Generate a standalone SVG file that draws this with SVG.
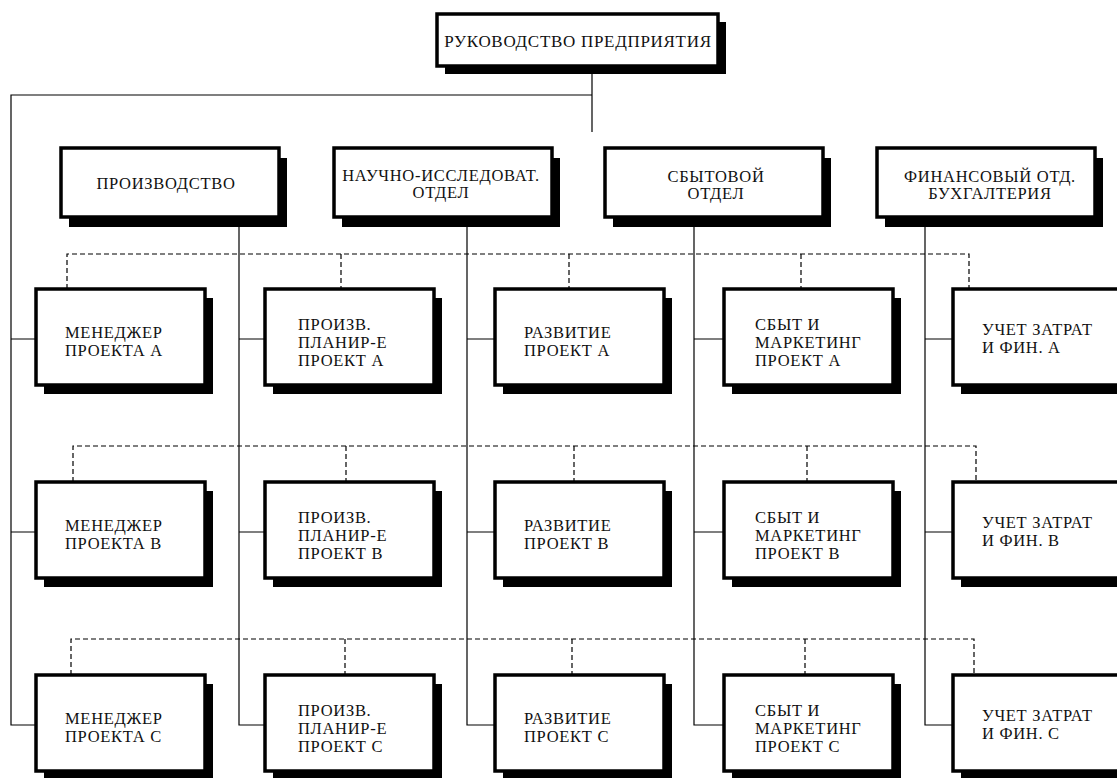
<svg xmlns="http://www.w3.org/2000/svg" width="1117" height="778" viewBox="0 0 1117 778">
<style>
.bg{fill:#ffffff}
.box{fill:#ffffff;stroke:#000000;stroke-width:3.5}
.sh{fill:#000000}
.t{font-family:"Liberation Serif","Times New Roman",serif;font-size:16.5px;letter-spacing:0.7px;fill:#111111}
.c{text-anchor:middle}
.ln{fill:none;stroke:#000000;stroke-width:1.2}
.dl{fill:none;stroke:#000000;stroke-width:1.2;stroke-dasharray:5 3}
</style>
<rect class="bg" x="0" y="0" width="1117" height="778"/>
<g id="connectors">
  <path class="ln" d="M592 66 V132 M592 95 H11 V725 H36"/>
  <path class="ln" d="M239 217 V725 H265 M467 217 V725 H495 M694 217 V725 H724 M925 217 V725 H953"/>
  <path class="ln" d="M11 339 H36 M239 339 H265 M467 339 H495 M694 339 H724 M925 339 H953"/>
  <path class="ln" d="M11 532 H36 M239 532 H265 M467 532 H495 M694 532 H724 M925 532 H953"/>
  <path class="dl" d="M67 289 V254 H969 V289 M341 254 V289 M569 254 V289 M801 254 V289"/>
  <path class="dl" d="M73 482 V446 H976 V482 M346 446 V482 M574 446 V482 M807 446 V482"/>
  <path class="dl" d="M71 675 V639 H974 V675 M345 639 V675 M572 639 V675 M805 639 V675"/>
</g>
<g id="n-top"><rect class="sh" x="445" y="22" width="281" height="52"/><rect class="box" x="437" y="14" width="281" height="52"/><text class="t c" x="578" y="47" style="font-size:17px">РУКОВОДСТВО ПРЕДПРИЯТИЯ</text></g>
<g id="n-prod"><rect class="sh" x="69" y="158" width="218" height="69"/><rect class="box" x="61" y="148" width="218" height="69"/><text class="t c" x="166" y="189">ПРОИЗВОДСТВО</text></g>
<g id="n-nio"><rect class="sh" x="342" y="158" width="218" height="69"/><rect class="box" x="334" y="148" width="218" height="69"/><text class="t c" x="441" y="181">НАУЧНО-ИССЛЕДОВАТ.</text><text class="t c" x="441" y="198">ОТДЕЛ</text></g>
<g id="n-sbyt"><rect class="sh" x="613" y="158" width="218" height="69"/><rect class="box" x="605" y="148" width="218" height="69"/><text class="t c" x="716" y="182">СБЫТОВОЙ</text><text class="t c" x="716" y="199">ОТДЕЛ</text></g>
<g id="n-fin"><rect class="sh" x="885" y="158" width="218" height="69"/><rect class="box" x="877" y="148" width="218" height="69"/><text class="t c" x="990" y="182">ФИНАНСОВЫЙ ОТД.</text><text class="t c" x="990" y="199">БУХГАЛТЕРИЯ</text></g>

<g id="n-a1"><rect class="sh" x="44" y="298" width="169" height="96"/><rect class="box" x="36" y="289" width="169" height="96"/><text class="t" x="65" y="338">МЕНЕДЖЕР</text><text class="t" x="65" y="356">ПРОЕКТА А</text></g>
<g id="n-a2"><rect class="sh" x="273" y="298" width="169" height="96"/><rect class="box" x="265" y="289" width="169" height="96"/><text class="t" x="298" y="330">ПРОИЗВ.</text><text class="t" x="298" y="348">ПЛАНИР-Е</text><text class="t" x="298" y="366">ПРОЕКТ А</text></g>
<g id="n-a3"><rect class="sh" x="503" y="298" width="169" height="96"/><rect class="box" x="495" y="289" width="169" height="96"/><text class="t" x="524" y="338">РАЗВИТИЕ</text><text class="t" x="524" y="356">ПРОЕКТ А</text></g>
<g id="n-a4"><rect class="sh" x="732" y="298" width="169" height="96"/><rect class="box" x="724" y="289" width="169" height="96"/><text class="t" x="755" y="330">СБЫТ И</text><text class="t" x="755" y="348">МАРКЕТИНГ</text><text class="t" x="755" y="366">ПРОЕКТ А</text></g>
<g id="n-a5"><rect class="sh" x="961" y="298" width="169" height="96"/><rect class="box" x="953" y="289" width="169" height="96"/><text class="t" x="982" y="335">УЧЕТ ЗАТРАТ</text><text class="t" x="982" y="353">И ФИН. А</text></g>

<g id="n-b1"><rect class="sh" x="44" y="491" width="169" height="96"/><rect class="box" x="36" y="482" width="169" height="96"/><text class="t" x="65" y="531">МЕНЕДЖЕР</text><text class="t" x="65" y="549">ПРОЕКТА В</text></g>
<g id="n-b2"><rect class="sh" x="273" y="491" width="169" height="96"/><rect class="box" x="265" y="482" width="169" height="96"/><text class="t" x="298" y="523">ПРОИЗВ.</text><text class="t" x="298" y="541">ПЛАНИР-Е</text><text class="t" x="298" y="559">ПРОЕКТ В</text></g>
<g id="n-b3"><rect class="sh" x="503" y="491" width="169" height="96"/><rect class="box" x="495" y="482" width="169" height="96"/><text class="t" x="524" y="531">РАЗВИТИЕ</text><text class="t" x="524" y="549">ПРОЕКТ В</text></g>
<g id="n-b4"><rect class="sh" x="732" y="491" width="169" height="96"/><rect class="box" x="724" y="482" width="169" height="96"/><text class="t" x="755" y="523">СБЫТ И</text><text class="t" x="755" y="541">МАРКЕТИНГ</text><text class="t" x="755" y="559">ПРОЕКТ В</text></g>
<g id="n-b5"><rect class="sh" x="961" y="491" width="169" height="96"/><rect class="box" x="953" y="482" width="169" height="96"/><text class="t" x="982" y="528">УЧЕТ ЗАТРАТ</text><text class="t" x="982" y="546">И ФИН. В</text></g>

<g id="n-c1"><rect class="sh" x="44" y="684" width="169" height="96"/><rect class="box" x="36" y="675" width="169" height="96"/><text class="t" x="65" y="724">МЕНЕДЖЕР</text><text class="t" x="65" y="742">ПРОЕКТА С</text></g>
<g id="n-c2"><rect class="sh" x="273" y="684" width="169" height="96"/><rect class="box" x="265" y="675" width="169" height="96"/><text class="t" x="298" y="716">ПРОИЗВ.</text><text class="t" x="298" y="734">ПЛАНИР-Е</text><text class="t" x="298" y="752">ПРОЕКТ С</text></g>
<g id="n-c3"><rect class="sh" x="503" y="684" width="169" height="96"/><rect class="box" x="495" y="675" width="169" height="96"/><text class="t" x="524" y="724">РАЗВИТИЕ</text><text class="t" x="524" y="742">ПРОЕКТ С</text></g>
<g id="n-c4"><rect class="sh" x="732" y="684" width="169" height="96"/><rect class="box" x="724" y="675" width="169" height="96"/><text class="t" x="755" y="716">СБЫТ И</text><text class="t" x="755" y="734">МАРКЕТИНГ</text><text class="t" x="755" y="752">ПРОЕКТ С</text></g>
<g id="n-c5"><rect class="sh" x="961" y="684" width="169" height="96"/><rect class="box" x="953" y="675" width="169" height="96"/><text class="t" x="982" y="721">УЧЕТ ЗАТРАТ</text><text class="t" x="982" y="739">И ФИН. С</text></g>
</svg>
